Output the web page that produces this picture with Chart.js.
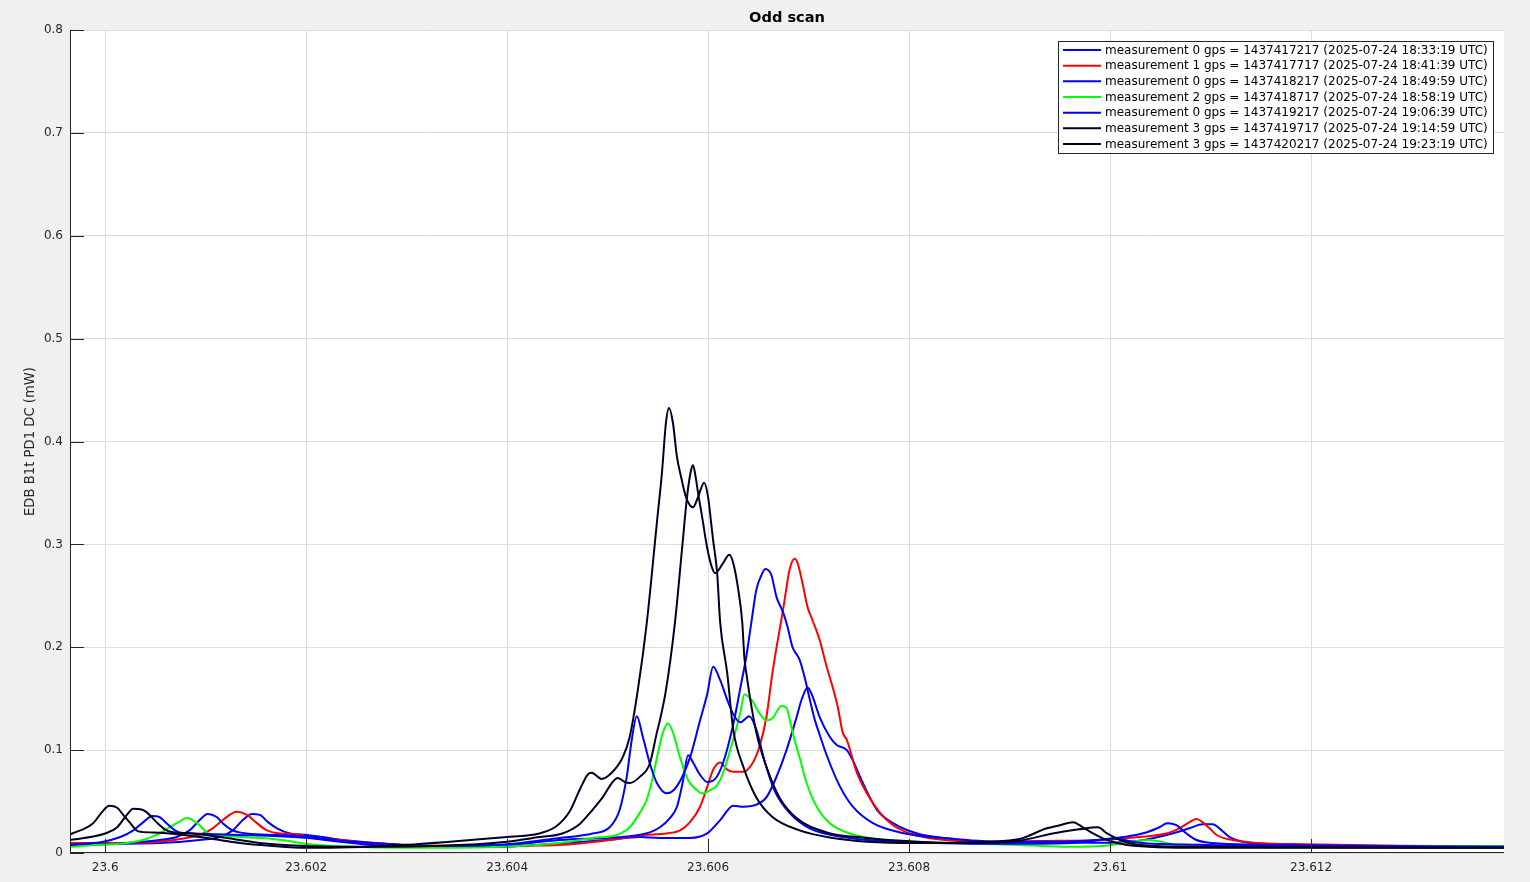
<!DOCTYPE html>
<html><head><meta charset="utf-8">
<script src="https://cdn.jsdelivr.net/npm/chart.js@4.4.1/dist/chart.umd.min.js"></script>
<style>html,body{margin:0;padding:0;background:#f0f0f0;overflow:hidden}</style>
</head><body>
<canvas id="c" width="1530" height="882" style="display:block;width:1530px;height:882px"></canvas>
<script>
const chartTitle = 'Odd scan';
const yTitle = 'EDB B1t PD1 DC (mW)';
const xTicks = [23.600, 23.602, 23.604, 23.606, 23.608, 23.610, 23.612];
const yTicks = [0, 0.1, 0.2, 0.3, 0.4, 0.5, 0.6, 0.7, 0.8];
const xRange = [23.59965, 23.61392];
const yRange = [0, 0.8];

const seriesLabels = [
  'measurement 0 gps = 1437417217 (2025-07-24 18:33:19 UTC)',
  'measurement 1 gps = 1437417717 (2025-07-24 18:41:39 UTC)',
  'measurement 0 gps = 1437418217 (2025-07-24 18:49:59 UTC)',
  'measurement 2 gps = 1437418717 (2025-07-24 18:58:19 UTC)',
  'measurement 0 gps = 1437419217 (2025-07-24 19:06:39 UTC)',
  'measurement 3 gps = 1437419717 (2025-07-24 19:14:59 UTC)',
  'measurement 3 gps = 1437420217 (2025-07-24 19:23:19 UTC)'
];
const seriesColors = ['#0000ff', '#ff0000', '#0000ff', '#00ff00', '#0000ff', '#000024', '#000024'];

// measurement 0 (18:33)
const s0x = [23.59965,23.60054,23.60094,23.60114,23.60127,23.60137,23.60146,23.60154,23.60162,23.60171,23.60184,23.60201,23.60234,23.60266,23.60316,23.60393,23.60432,23.60499,23.60532,23.60552,23.60582,23.60599,23.60612,23.60625,23.60635,23.60648,23.60658,23.60668,23.60678,23.60688,23.60693,23.60699,23.60704,23.60711,23.60721,23.60728,23.60738,23.60744,23.60754,23.60768,23.60784,23.60808,23.6084,23.60877,23.60943,23.6099,23.61029,23.61062,23.61079,23.61092,23.61102,23.61111,23.61119,23.61132,23.61162,23.61239,23.61338,23.61392];
const s0y = [0.0087,0.0097,0.0126,0.0155,0.022,0.032,0.038,0.037,0.030,0.024,0.019,0.0175,0.013,0.010,0.007,0.006,0.008,0.0126,0.0155,0.0146,0.0146,0.019,0.032,0.046,0.045,0.047,0.054,0.074,0.100,0.132,0.149,0.161,0.152,0.132,0.113,0.105,0.100,0.090,0.068,0.042,0.029,0.019,0.014,0.0105,0.011,0.010,0.012,0.019,0.024,0.028,0.028,0.022,0.0155,0.011,0.0087,0.007,0.006,0.0065];
// measurement 1 (18:41)
const s1x = [23.59965,23.60022,23.60054,23.60081,23.60094,23.60107,23.60117,23.60131,23.60141,23.60151,23.60161,23.60174,23.60194,23.60201,23.60234,23.60266,23.60333,23.60393,23.60452,23.60502,23.60535,23.60559,23.60572,23.60582,23.60592,23.60599,23.60605,23.60612,23.60619,23.60625,23.60635,23.60644,23.60651,23.60658,23.60664,23.60675,23.60681,23.60686,23.60689,23.60694,23.60699,23.60704,23.60711,23.60718,23.60724,23.60729,23.60734,23.60738,23.60748,23.60758,23.60771,23.60784,23.60801,23.60827,23.60877,23.60927,23.60997,23.61029,23.61056,23.61069,23.61079,23.61086,23.61092,23.61099,23.61106,23.61122,23.61146,23.61179,23.61288,23.61392];
const s1y = [0.0097,0.0097,0.011,0.0146,0.0175,0.024,0.032,0.040,0.037,0.029,0.022,0.019,0.018,0.0155,0.0126,0.0097,0.007,0.007,0.0078,0.0126,0.0175,0.019,0.022,0.030,0.045,0.064,0.081,0.088,0.081,0.079,0.079,0.087,0.103,0.132,0.175,0.239,0.275,0.286,0.282,0.262,0.239,0.226,0.207,0.181,0.161,0.142,0.117,0.110,0.078,0.058,0.039,0.027,0.019,0.0136,0.011,0.0117,0.013,0.0155,0.019,0.024,0.030,0.033,0.030,0.024,0.0175,0.0126,0.0097,0.0087,0.007,0.0065];
// measurement 0 (18:49)
const s2x = [23.59965,23.60022,23.60054,23.60071,23.60084,23.60094,23.60102,23.60111,23.60117,23.60127,23.60141,23.60171,23.60194,23.60234,23.60293,23.60343,23.60393,23.60452,23.60519,23.60542,23.60552,23.60562,23.60569,23.60575,23.6058,23.60585,23.60592,23.60599,23.60607,23.60615,23.60625,23.60632,23.60638,23.60643,23.60648,23.60653,23.60657,23.60663,23.60668,23.60675,23.60679,23.60684,23.60691,23.60696,23.60701,23.60706,23.60711,23.60718,23.60731,23.60744,23.60764,23.60791,23.6084,23.6089,23.60943,23.6099,23.61013,23.61036,23.61049,23.61057,23.61066,23.61076,23.61086,23.61102,23.61149,23.61239,23.61392];
const s2y = [0.0068,0.0097,0.0126,0.0155,0.022,0.032,0.038,0.035,0.029,0.022,0.019,0.0175,0.0165,0.012,0.008,0.006,0.007,0.0126,0.016,0.020,0.025,0.034,0.045,0.070,0.095,0.088,0.076,0.069,0.072,0.088,0.125,0.160,0.191,0.224,0.256,0.270,0.276,0.270,0.249,0.233,0.220,0.200,0.188,0.171,0.150,0.130,0.115,0.095,0.065,0.045,0.029,0.020,0.014,0.011,0.011,0.013,0.0155,0.020,0.025,0.029,0.027,0.019,0.0126,0.0097,0.008,0.007,0.006];
// measurement 2 (18:58)
const s3x = [23.59965,23.59988,23.60022,23.60041,23.60054,23.60064,23.60073,23.60081,23.60087,23.60094,23.60101,23.60107,23.60121,23.60154,23.60167,23.60187,23.60201,23.60227,23.60316,23.60393,23.60452,23.60485,23.60509,23.60522,23.60532,23.60539,23.60545,23.6055,23.60555,23.6056,23.60565,23.60572,23.6058,23.60589,23.60594,23.60602,23.60609,23.60615,23.60624,23.60632,23.60636,23.60643,23.60651,23.60658,23.60664,23.60673,23.60678,23.60683,23.60686,23.60691,23.60698,23.60708,23.60721,23.60741,23.60774,23.60808,23.6091,23.6096,23.61,23.61013,23.61039,23.61056,23.61072,23.61139,23.61288,23.61392];
const s3y = [0.006,0.0078,0.0097,0.0136,0.019,0.025,0.030,0.034,0.032,0.027,0.020,0.0175,0.0165,0.0146,0.0136,0.011,0.0087,0.0068,0.005,0.006,0.0097,0.0146,0.0175,0.025,0.039,0.052,0.074,0.097,0.117,0.126,0.117,0.093,0.071,0.061,0.058,0.061,0.066,0.078,0.107,0.136,0.154,0.149,0.136,0.129,0.131,0.143,0.141,0.122,0.110,0.093,0.068,0.045,0.029,0.019,0.0126,0.011,0.0078,0.006,0.0075,0.0097,0.0126,0.0097,0.0068,0.0055,0.006,0.0068];
// measurement 0 (19:06)
const s4x = [23.59965,23.59998,23.60015,23.60028,23.60038,23.60047,23.60054,23.60061,23.60068,23.60074,23.60087,23.60134,23.60167,23.60201,23.60234,23.60266,23.60316,23.60393,23.60452,23.60485,23.60502,23.60512,23.60519,23.60524,23.60529,23.60535,23.60542,23.60549,23.60559,23.60569,23.60582,23.60592,23.60599,23.60605,23.60612,23.60619,23.60625,23.60632,23.60641,23.60648,23.60656,23.60666,23.60681,23.60701,23.60741,23.60791,23.6089,23.60969,23.61003,23.61029,23.61089,23.61189,23.61392];
const s4y = [0.0078,0.011,0.0155,0.022,0.030,0.036,0.035,0.029,0.023,0.020,0.019,0.0175,0.0165,0.0146,0.011,0.0078,0.0068,0.008,0.0146,0.019,0.025,0.042,0.074,0.110,0.133,0.113,0.087,0.068,0.058,0.065,0.093,0.129,0.154,0.181,0.168,0.149,0.135,0.127,0.133,0.120,0.090,0.061,0.039,0.024,0.0146,0.011,0.009,0.010,0.014,0.010,0.008,0.007,0.006];
// measurement 3 (19:14)
const s5x = [23.59965,23.59988,23.6,23.60012,23.6002,23.60028,23.60037,23.60042,23.60051,23.60061,23.60069,23.60087,23.60121,23.60154,23.60194,23.60244,23.60333,23.604,23.60432,23.60455,23.60472,23.60485,23.60495,23.60505,23.6051,23.60517,23.60522,23.60532,23.60542,23.60549,23.60552,23.60558,23.60567,23.60574,23.60579,23.60583,23.60585,23.60587,23.6059,23.60594,23.60599,23.60604,23.60607,23.60615,23.60621,23.60625,23.6063,23.60634,23.60636,23.60638,23.60648,23.60658,23.60671,23.60688,23.60718,23.60758,23.60808,23.60844,23.60877,23.6091,23.60943,23.60969,23.60988,23.60997,23.6101,23.61029,23.61089,23.61189,23.61392];
const s5y = [0.0126,0.016,0.019,0.025,0.035,0.043,0.042,0.039,0.030,0.022,0.020,0.019,0.0146,0.0097,0.007,0.006,0.007,0.011,0.0155,0.019,0.028,0.042,0.054,0.069,0.073,0.069,0.068,0.074,0.087,0.117,0.129,0.158,0.224,0.295,0.346,0.372,0.377,0.369,0.350,0.327,0.297,0.277,0.272,0.282,0.290,0.282,0.256,0.224,0.191,0.175,0.117,0.084,0.054,0.034,0.020,0.0146,0.011,0.0097,0.010,0.012,0.019,0.023,0.025,0.019,0.0126,0.0078,0.006,0.0055,0.005];
// measurement 3 (19:23)
const s6x = [23.59965,23.59988,23.59997,23.60004,23.60012,23.60018,23.60025,23.60033,23.60047,23.60064,23.60094,23.60114,23.60134,23.60164,23.60201,23.60244,23.603,23.60343,23.604,23.6042,23.60432,23.60449,23.60462,23.60472,23.6048,23.60484,23.60494,23.60504,23.60515,23.60522,23.6053,23.60539,23.60549,23.60554,23.60558,23.60561,23.60565,23.60569,23.60573,23.60578,23.60585,23.6059,23.60596,23.606,23.60603,23.60605,23.60609,23.60612,23.60619,23.60625,23.60635,23.60648,23.60664,23.60691,23.60724,23.60758,23.60808,23.60877,23.6091,23.60937,23.6095,23.60963,23.60973,23.60983,23.60997,23.61017,23.61089,23.61392];
const s6y = [0.018,0.029,0.040,0.046,0.044,0.037,0.029,0.021,0.020,0.019,0.0155,0.0126,0.0097,0.007,0.005,0.0055,0.008,0.011,0.0155,0.017,0.019,0.026,0.040,0.061,0.076,0.078,0.072,0.078,0.093,0.113,0.158,0.224,0.321,0.369,0.418,0.4326,0.418,0.385,0.366,0.346,0.336,0.346,0.360,0.346,0.321,0.304,0.272,0.224,0.175,0.120,0.084,0.054,0.035,0.022,0.0146,0.011,0.0097,0.011,0.0136,0.024,0.027,0.030,0.025,0.019,0.0126,0.0078,0.005,0.005];

const seriesX = [s0x, s1x, s2x, s3x, s4x, s5x, s6x];
const seriesY = [s0y, s1y, s2y, s3y, s4y, s5y, s6y];

const FONT = '"DejaVu Sans", "Liberation Sans", sans-serif';
const AXIS_COLOR = '#262626';

const datasets = seriesLabels.map((lab, i) => ({
  label: lab,
  data: seriesX[i].map((x, j) => ({x: x, y: seriesY[i][j]})),
  borderColor: seriesColors[i],
  backgroundColor: seriesColors[i],
  borderWidth: 2,
  pointRadius: 0,
  cubicInterpolationMode: 'monotone',
  fill: false,
  order: seriesLabels.length - i
}));

const framePlugin = {
  id: 'frame',
  beforeDraw(chart) {
    const {ctx, chartArea: a} = chart;
    ctx.save();
    ctx.fillStyle = '#f0f0f0';
    ctx.fillRect(0, 0, chart.width, chart.height);
    ctx.fillStyle = '#ffffff';
    ctx.fillRect(a.left, a.top, a.right - a.left, a.bottom - a.top);
    ctx.restore();
  },
  afterDatasetsDraw(chart) {
    const {ctx, chartArea: a, scales} = chart;
    ctx.save();
    ctx.strokeStyle = AXIS_COLOR;
    ctx.lineWidth = 1;
    const L = Math.round(a.left) + 0.5, B = Math.round(a.bottom) - 0.5;
    ctx.beginPath();
    ctx.moveTo(L, a.top); ctx.lineTo(L, a.bottom);
    ctx.moveTo(a.left, B); ctx.lineTo(a.right, B);
    xTicks.forEach(v => {
      const px = Math.round(scales.x.getPixelForValue(v)) + 0.5;
      ctx.moveTo(px, a.bottom); ctx.lineTo(px, a.bottom - 14);
    });
    yTicks.forEach(v => {
      const py = Math.round(scales.y.getPixelForValue(v)) + 0.5;
      ctx.moveTo(a.left, py); ctx.lineTo(a.left + 14, py);
    });
    ctx.stroke();
    ctx.restore();
  },
  afterDraw(chart) {
    const {ctx} = chart;
    const bx = 1058.5, by = 41.5, bw = 435, bh = 112;
    ctx.save();
    ctx.fillStyle = '#ffffff';
    ctx.fillRect(bx, by, bw, bh);
    ctx.strokeStyle = AXIS_COLOR;
    ctx.lineWidth = 1;
    ctx.strokeRect(bx, by, bw, bh);
    ctx.font = '12px ' + FONT;
    ctx.textBaseline = 'middle';
    ctx.textAlign = 'left';
    chart.data.datasets.forEach((ds, i) => {
      const y = 50 + i * 15.67;
      ctx.strokeStyle = ds.borderColor;
      ctx.lineWidth = 2;
      ctx.beginPath();
      ctx.moveTo(1063, y); ctx.lineTo(1101, y);
      ctx.stroke();
      ctx.fillStyle = '#000000';
      ctx.fillText(ds.label, 1105, y + 0.5);
    });
    ctx.restore();
  }
};

const fmt = v => String(parseFloat(Number(v).toFixed(4)));

new Chart(document.getElementById('c'), {
  type: 'line',
  data: {datasets},
  plugins: [framePlugin],
  options: {
    responsive: false,
    animation: false,
    devicePixelRatio: 1,
    layout: {padding: {left: 0, right: 26, top: 0, bottom: 0}},
    plugins: {
      legend: {display: false},
      tooltip: {enabled: false},
      title: {
        display: true, text: chartTitle, color: '#000000', fullSize: false,
        font: {family: FONT, size: 14.6, weight: 'bold', lineHeight: 1.2},
        padding: {top: 9, bottom: 3.5}
      }
    },
    scales: {
      x: {
        type: 'linear', min: xRange[0], max: xRange[1],
        afterFit: s => { s.height = 29; },
        afterBuildTicks: s => { s.ticks = xTicks.map(v => ({value: v})); },
        grid: {color: '#dcdcdc', lineWidth: 1, drawTicks: false},
        border: {display: false},
        ticks: {color: AXIS_COLOR, font: {family: FONT, size: 12}, padding: 8, maxRotation: 0, autoSkip: false, callback: v => fmt(v)}
      },
      y: {
        type: 'linear', min: yRange[0], max: yRange[1],
        afterFit: s => { s.width = 70; },
        afterBuildTicks: s => { s.ticks = yTicks.map(v => ({value: v})); },
        grid: {color: '#dcdcdc', lineWidth: 1, drawTicks: false},
        border: {display: false},
        ticks: {color: AXIS_COLOR, font: {family: FONT, size: 12}, padding: 7, autoSkip: false, callback: v => fmt(v)},
        title: {display: true, text: yTitle, color: AXIS_COLOR, font: {family: FONT, size: 13.2}, padding: {top: 23, bottom: 0}}
      }
    }
  }
});
</script>
</body></html>
